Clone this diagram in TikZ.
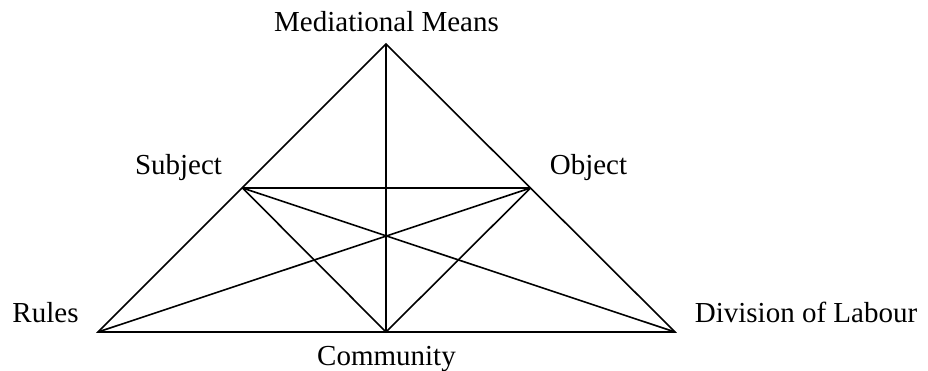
\documentclass[tikz,border=0pt]{standalone}
\usepackage{fontspec}
\setmainfont{Liberation Serif}
\begin{document}
\begin{tikzpicture}[x=1pt,y=-1pt,
  lab/.style={anchor=base,inner sep=0pt,font=\fontsize{29}{33}\selectfont},
  edge/.style={line width=1.6pt,line join=miter}]
\useasboundingbox (0,0) rectangle (928,371);
\coordinate (M) at (386,44);
\coordinate (S) at (242.5,188);
\coordinate (O) at (530.5,188);
\coordinate (R) at (98,332);
\coordinate (D) at (675,332);
\coordinate (C) at (386,332);
\draw[edge] (R) -- (M) -- (D) -- cycle;
\draw[edge] (M) -- (C);
\draw[edge] (S) -- (O);
\draw[edge] (S) -- (C) -- (O);
\draw[edge] (S) -- (D);
\draw[edge] (O) -- (R);
\node[lab] (tM) at (386.5,32) {Mediational Means};
\node[lab] (tS) at (178.5,175) {Subject};
\node[lab] (tO) at (588.5,175) {Object};
\node[lab] (tR) at (45.5,322) {Rules};
\node[lab] (tD) at (806,322) {Division of Labour};
\node[lab] (tC) at (386.5,365) {Community};
\end{tikzpicture}
\end{document}
